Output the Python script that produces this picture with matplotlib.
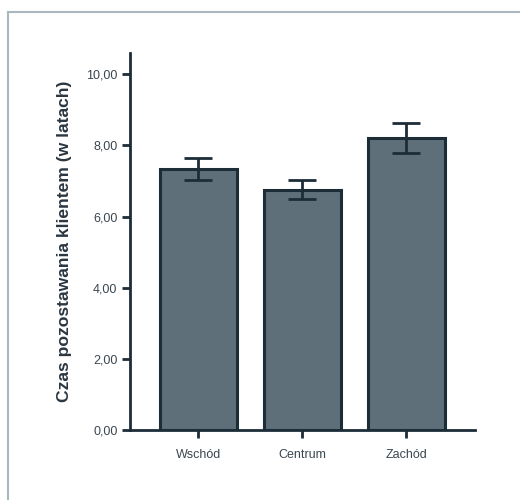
import matplotlib
matplotlib.use("Agg")
import matplotlib.pyplot as plt
from matplotlib.lines import Line2D

categories = ["Wschód", "Centrum", "Zachód"]
means = [7.33, 6.76, 8.20]
errors = [0.31, 0.27, 0.42]
yticks = [0, 2, 4, 6, 8, 10]
ytick_labels = ["0,00", "2,00", "4,00", "6,00", "8,00", "10,00"]
ylabel = "Czas pozostawania klientem (w latach)"

plt.rcParams['font.family'] = ['Liberation Sans', 'DejaVu Sans']

dark = "#1c2d38"
fill = "#5f6f7a"

fig = plt.figure(figsize=(5.2, 5.0), dpi=100)
ax = fig.add_axes([0.25, 0.14, 0.6635, 0.754])

x = list(range(len(categories)))
ax.bar(x, means, width=0.74, color=fill, edgecolor=dark, linewidth=2.2, zorder=2)
ax.errorbar(x, means, yerr=errors, fmt='none', ecolor=dark, elinewidth=2,
            capsize=10, capthick=2, zorder=3)

ax.set_xlim(-0.655, 2.66)
ax.set_ylim(0, 10.6)
ax.set_yticks(yticks)
ax.set_yticklabels(ytick_labels)
ax.set_xticks(x)
ax.set_xticklabels(categories)

for s in ['top', 'right']:
    ax.spines[s].set_visible(False)
for s in ['left', 'bottom']:
    ax.spines[s].set_color(dark)
    ax.spines[s].set_linewidth(2)

ax.tick_params(axis='both', colors=dark, width=2, length=6, labelsize=9,
               labelcolor="#3a4650")
ax.tick_params(axis='y', pad=3)
ax.tick_params(axis='x', pad=8)

ax.set_ylabel(ylabel, fontsize=12.6, fontweight='bold', color="#2a3640", labelpad=10)

# frame lines at top and left of the figure
fig.add_artist(Line2D([8/520, 1], [1-12/500, 1-12/500], transform=fig.transFigure,
                      color="#a9b7bf", linewidth=1.5))
fig.add_artist(Line2D([8/520, 8/520], [0, 1-12/500], transform=fig.transFigure,
                      color="#a9b7bf", linewidth=1.5))

fig.savefig("out.png", dpi=100, facecolor="white")
